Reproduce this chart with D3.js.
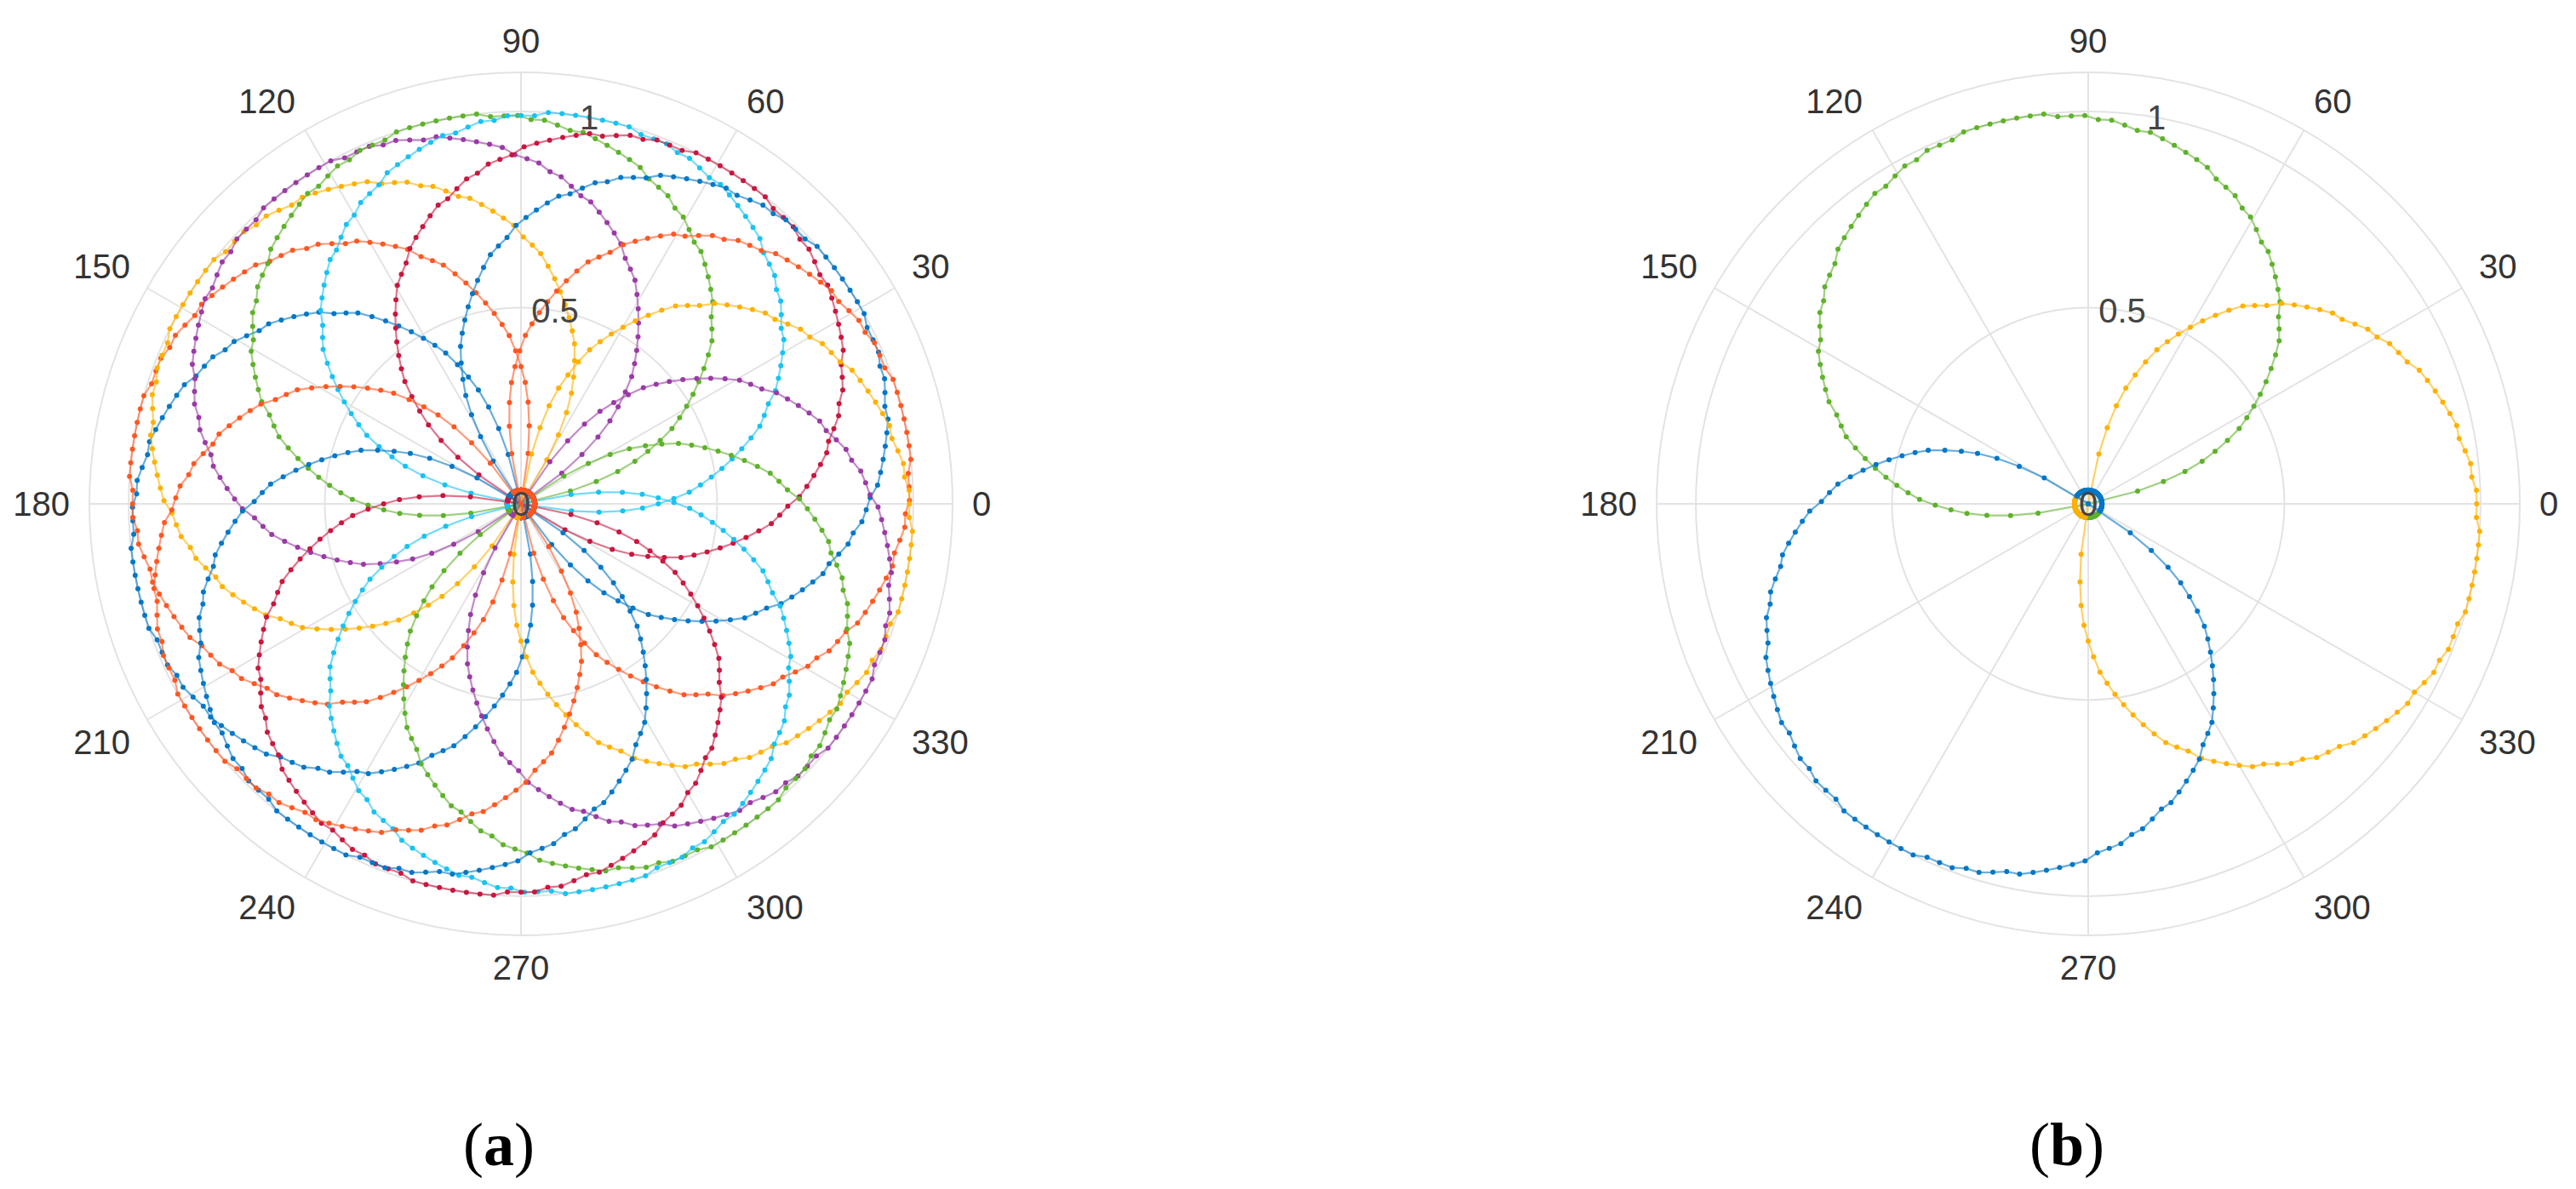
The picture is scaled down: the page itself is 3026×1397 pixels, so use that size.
<!DOCTYPE html>
<html>
<head>
<meta charset="utf-8">
<script src="https://cdn.jsdelivr.net/npm/d3@7"></script>
<style>
  html, body { margin: 0; padding: 0; background: #ffffff; }
  svg { display: block; }
</style>
</head>
<body>
<svg id="chart" width="3026" height="1397"></svg>
<script>
// ---------------- data ----------------
const thetaTicks = [0, 30, 60, 90, 120, 150, 180, 210, 240, 270, 300, 330];
const thetaTickLabels = ["0", "30", "60", "90", "120", "150", "180", "210", "240", "270", "300", "330"];
const rTicks = [0, 0.5, 1];
const rTickLabels = ["0", "0.5", "1"];
const rMax = 1.1;
const rTickLabelAngle = 80;

const beamStepDeg = 2;
const beamProfile = [1.00, 1.00, 1.00, 1.00, 0.99, 0.99, 0.99, 0.98, 0.98, 0.97,
                     0.96, 0.96, 0.95, 0.94, 0.93, 0.92, 0.91, 0.89, 0.88, 0.87,
                     0.85, 0.84, 0.82, 0.80, 0.79, 0.77, 0.75, 0.73, 0.71, 0.68,
                     0.66, 0.64, 0.61, 0.58, 0.55, 0.52, 0.49, 0.46, 0.43, 0.39,
                     0.35, 0.31, 0.26, 0.20, 0.13, 0.00];
// level behind each beam (small ring round the origin)
const backLobe = 0.035;

// (a) beam peak directions (deg), in plotting order
const peaksA = [192.5, 170, 147.5, 125, 102.5, 80, 57.5, 35, 12.5, -10, -32.5, -55, -77.5, -100, -122.5, -145];
const colorsA = ["blue", "orange", "yellow", "purple", "green", "cyan", "crimson",
                 "blue", "orange", "yellow", "purple", "green", "cyan", "crimson",
                 "blue", "orange"];
// (b) three selected beams
const peaksB = [102.5, -10, -122.5];
const colorsB = ["green", "yellow", "blue"];

const palette = {
  blue: "#0377c6", orange: "#ff5722", yellow: "#ffb000", purple: "#9a3aa5",
  green: "#5fb12c", cyan: "#18c2f2", crimson: "#c8173f"
};

// ---------------- layout ----------------
const svg = d3.select("#chart");
svg.append("rect").attr("width", 3026).attr("height", 1397).attr("fill", "#fff");

const R = 507;
const rScale = d3.scaleLinear().domain([0, rMax]).range([0, R]);
const deg = Math.PI / 180;
const FONT = "'Liberation Sans', Arial, Helvetica, sans-serif";

function beamPoints(peak) {
  const pts = [];
  const n = beamProfile.length - 1; // 45 -> 90 deg
  for (let k = -90; k <= 90; k++) {  // offsets in steps of beamStepDeg, -180..180
    const off = k * beamStepDeg;
    const idx = Math.abs(k);
    const r = idx <= n ? beamProfile[idx] : backLobe;
    pts.push({ theta: peak + off, r: r });
  }
  return pts;
}

function drawPolar(cx, cy, peaks, colors, caption, capX) {
  const g = svg.append("g").attr("transform", `translate(${cx},${cy})`);
  const grid = g.append("g");
  // spokes
  grid.selectAll("line.spoke").data(thetaTicks).join("line")
    .attr("class", "spoke")
    .attr("x1", 0).attr("y1", 0)
    .attr("x2", d => rScale(rMax) * Math.cos(d * deg))
    .attr("y2", d => -rScale(rMax) * Math.sin(d * deg))
    .attr("stroke", "#e3e3e3").attr("stroke-width", 2);
  // circles
  grid.selectAll("circle.ring").data(rTicks.filter(d => d > 0).concat([rMax])).join("circle")
    .attr("class", "ring")
    .attr("r", d => rScale(d))
    .attr("fill", "none").attr("stroke", "#e3e3e3").attr("stroke-width", 2);

  const line = d3.lineRadial()
    .angle(d => (90 - d.theta) * deg)
    .radius(d => rScale(d.r));

  peaks.forEach((p, i) => {
    const pts = beamPoints(p);
    const col = palette[colors[i]];
    const s = g.append("g");
    s.append("path").attr("d", line(pts))
      .attr("fill", "none").attr("stroke", col)
      .attr("stroke-width", 2.2).attr("stroke-opacity", 0.6);
    s.selectAll("circle").data(pts).join("circle")
      .attr("cx", d => d3.pointRadial((90 - d.theta) * deg, rScale(d.r))[0])
      .attr("cy", d => d3.pointRadial((90 - d.theta) * deg, rScale(d.r))[1])
      .attr("r", 3.0).attr("fill", col);
  });

  // theta tick labels
  const fs = 40, Ra = rScale(rMax) + 23;
  g.selectAll("text.tt").data(thetaTicks).join("text")
    .attr("class", "tt")
    .attr("x", d => Ra * Math.cos(d * deg))
    .attr("y", d => {
      const y = -Ra * Math.sin(d * deg);
      if (d === 0 || d === 180) return y + 0.358 * fs;
      if (d > 180) return y + 0.716 * fs;
      return y;
    })
    .attr("text-anchor", d => (d === 90 || d === 270) ? "middle" : (d > 90 && d < 270 ? "end" : "start"))
    .attr("font-family", FONT).attr("font-size", fs).attr("fill", "#333")
    .text((d, i) => thetaTickLabels[i]);

  // r tick labels
  g.selectAll("text.rt").data(rTicks).join("text")
    .attr("class", "rt")
    .attr("x", d => rScale(d) * Math.cos(rTickLabelAngle * deg))
    .attr("y", d => -rScale(d) * Math.sin(rTickLabelAngle * deg) + 0.358 * fs)
    .attr("text-anchor", "middle")
    .attr("font-family", FONT).attr("font-size", fs).attr("fill", "#444")
    .text((d, i) => rTickLabels[i]);

  // caption
  const cap = svg.append("text").attr("x", capX).attr("y", 1369)
    .attr("text-anchor", "middle")
    .attr("font-family", "'Liberation Serif', 'Times New Roman', serif")
    .attr("font-size", 72).attr("fill", "#000");
  cap.append("tspan").text("(");
  cap.append("tspan").attr("font-weight", "bold").text(caption);
  cap.append("tspan").text(")");
}

drawPolar(612, 592, peaksA, colorsA, "a", 586);
drawPolar(2453, 592, peaksB, colorsB, "b", 2428);
</script>
</body>
</html>
